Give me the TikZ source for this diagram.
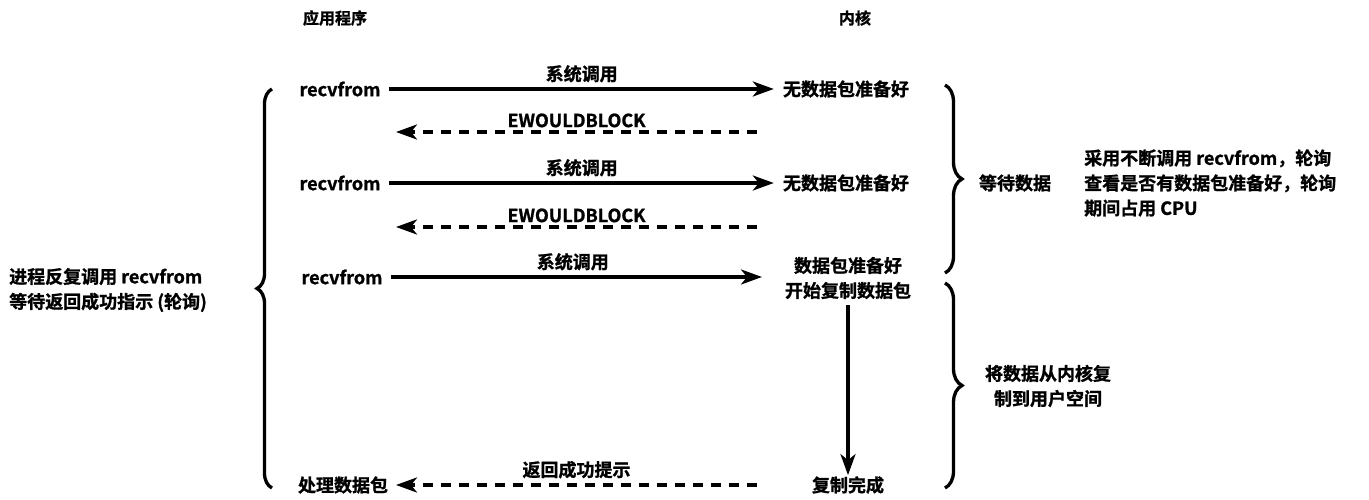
\documentclass[tikz,border=0pt]{standalone}
\usepackage{fontspec}
\setmainfont{Noto Sans CJK SC}[BoldFont={Noto Sans CJK SC Bold},BoldFeatures={FakeBold=1.2}]
\usepackage{tikz}
\usetikzlibrary{arrows,arrows.meta}
\usetikzlibrary{decorations.pathreplacing}

\tikzset{
  lbl/.style={font=\bfseries\fontsize{18}{25}\selectfont,inner sep=1pt},
  hdr/.style={font=\bfseries\fontsize{16}{20}\selectfont,inner sep=1pt},
  call/.style={-{Stealth[length=21pt,width=15pt,inset=6pt]},line width=3.3pt},
  ret/.style={-{Stealth[length=21pt,width=15pt,inset=6pt]},line width=3.3pt,dash pattern=on 10pt off 8pt},
  brc/.style={line width=3.3pt,decorate,decoration={brace,amplitude=17pt}}
}

\begin{document}
\begin{tikzpicture}[x=1pt,y=-1pt]
        \useasboundingbox (0,0) rectangle (1369,500);
        % headers
        \node[hdr] (app) at (335,18) {应用程序};
        \node[hdr] (kern) at (855,18) {内核};
        % application side
        \node[lbl] (rv1) at (340,89) {recvfrom};
        \node[lbl] (rv2) at (340,183) {recvfrom};
        \node[lbl] (rv3) at (342,277) {recvfrom};
        \node[lbl] (proc) at (343,485) {处理数据包};
        % kernel side
        \node[lbl] (nd1) at (846,89) {无数据包准备好};
        \node[lbl] (nd2) at (846,183) {无数据包准备好};
        \node[lbl,align=center] (rdy) at (848,278) {数据包准备好\\开始复制数据包};
        \node[lbl] (done) at (848,485) {复制完成};
        % system calls
        \draw[call,shorten <=7pt,shorten >=8pt] (rv1.east) -- (rv1.east -| nd1.west) node[lbl,midway,above=4pt] {系统调用};
        \draw[call,shorten <=7pt,shorten >=8pt] (rv2.east) -- (rv2.east -| nd2.west) node[lbl,midway,above=4pt] {系统调用};
        \draw[call,shorten <=7pt] (rv3.east) -- (rv3.east -| 762,0) node[lbl,midway,above=4pt] {系统调用};
        % error returns
        \coordinate (eb1) at (757,132);
        \coordinate (eb2) at (757,227);
        \coordinate (ok) at (757,485);
        \draw[ret] (eb1) -- (eb1 -| 396,0) node[lbl,midway,above=2pt] {EWOULDBLOCK};
        \draw[ret] (eb2) -- (eb2 -| 396,0) node[lbl,midway,above=2pt] {EWOULDBLOCK};
        \draw[ret] (ok) -- (ok -| 396,0) node[lbl,midway,above=4pt] {返回成功提示};
        % copy
        \draw[call] (rdy.south) ++(0,5) -- (done.north);
        % braces
        \draw[brc,decoration={amplitude=15pt}] (272,488) -- (272,89);
        \draw[brc] (945,85) -- (945,273);
        \draw[brc] (945,283) -- (945,488);
        % notes
        \node[lbl,align=left,anchor=west] (poll) at (8,290) {进程反复调用 recvfrom\\等待返回成功指示 (轮询)};
        \node[lbl] (wait) at (1015,183) {等待数据};
        \node[lbl,align=left,anchor=west] (cpu) at (1083,183) {采用不断调用 recvfrom，轮询\\查看是否有数据包准备好，轮询\\期间占用 CPU};
        \node[lbl,align=center] (copy) at (1048,386) {将数据从内核复\\制到用户空间};
    \end{tikzpicture}
\end{document}
